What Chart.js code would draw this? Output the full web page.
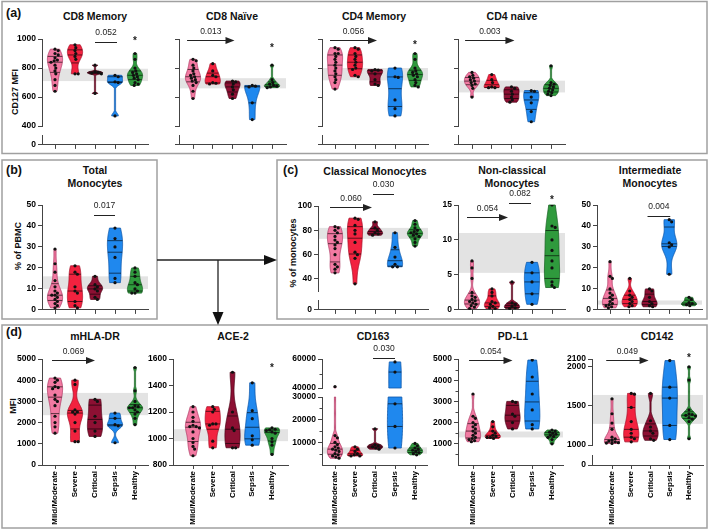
<!DOCTYPE html>
<html><head><meta charset="utf-8">
<script src="https://cdn.jsdelivr.net/npm/chart.js@4.4.1/dist/chart.umd.min.js"></script>
<style>
html,body{margin:0;padding:0;background:#fff}
body{width:709px;height:531px;position:relative;overflow:hidden;font-family:"Liberation Sans",Arial,sans-serif;color:#111}
.tt{position:absolute;transform:translate(-50%,-50%);font-weight:bold;font-size:10.5px;line-height:12.5px;text-align:center;white-space:nowrap}
.pl{position:absolute;transform:translate(0,-50%);font-weight:bold;font-size:12.5px}
.yt{position:absolute;transform:translate(-50%,-50%) rotate(-90deg);font-weight:bold;font-size:9px;white-space:nowrap}
canvas{position:absolute}
</style></head><body>
<svg width="709" height="531" style="position:absolute;left:0;top:0">
<g fill="none" stroke="#a0a0a0" stroke-width="1.5">
<rect x="2" y="1.5" width="705" height="152"/>
<rect x="2" y="160" width="155" height="159"/>
<rect x="277" y="160" width="430" height="159"/>
<rect x="2" y="325" width="705" height="203"/>
</g>
<g stroke="#222" stroke-width="1.3">
<line x1="157" y1="260" x2="266" y2="260"/>
<line x1="218" y1="260" x2="218" y2="313"/>
</g>
<polygon points="264,255 277,260 264,265" fill="#111"/>
<polygon points="212.5,312 218,325 223.5,312" fill="#111"/>
</svg>

<div class="pl" style="left:6px;top:13px">(a)</div>
<div class="pl" style="left:6px;top:170px">(b)</div>
<div class="pl" style="left:283px;top:170px">(c)</div>
<div class="pl" style="left:6px;top:332px">(d)</div>

<div class="tt" style="left:95px;top:16px">CD8 Memory</div>
<div class="tt" style="left:232px;top:16px">CD8 Naïve</div>
<div class="tt" style="left:374px;top:16px">CD4 Memory</div>
<div class="tt" style="left:512px;top:16px">CD4 naive</div>
<div class="tt" style="left:95px;top:176px">Total<br>Monocytes</div>
<div class="tt" style="left:375px;top:171px">Classical Monocytes</div>
<div class="tt" style="left:512px;top:176px">Non-classical<br>Monocytes</div>
<div class="tt" style="left:650px;top:176px">Intermediate<br>Monocytes</div>
<div class="tt" style="left:95px;top:336px">mHLA-DR</div>
<div class="tt" style="left:233px;top:336px">ACE-2</div>
<div class="tt" style="left:373px;top:336px">CD163</div>
<div class="tt" style="left:513px;top:336px">PD-L1</div>
<div class="tt" style="left:657px;top:336px">CD142</div>

<div class="yt" style="left:15px;top:92px">CD127 MFI</div>
<div class="yt" style="left:18px;top:246px">% of PBMC</div>
<div class="yt" style="left:293px;top:253px">% of monocytes</div>
<div class="yt" style="left:13px;top:406px">MFI</div>

<script>
// ---------- categories ----------
const GROUPS = ['Mild/Moderate','Severe','Critical','Sepsis','Healthy'];

// ---------- values (one array per group: Mild/Moderate, Severe, Critical, Sepsis, Healthy) ----------
const cd8Memory = [
 [930,920,900,890,870,855,850,840,820,800,780,760,720,680,640],
 [960,940,920,900,880,860,760,760],
 [820,775,770,765,760,625],
 [750,740,705,700,470],
 [900,860,800,780,770,760,750,740,730,720,700,690,680]
];
const cd8Naive = [
 [860,850,820,800,780,760,750,740,730,720,710,700,680,640,590],
 [830,780,750,740,700,695,690],
 [710,705,690,670,650,620,590],
 [680,675,670,560,445],
 [820,720,700,690,680,675,670,665]
];
const cd4Memory = [
 [940,930,900,900,880,860,840,820,800,780,760,740,720,700,655],
 [940,930,900,880,860,840,820,800,790,750,740],
 [790,785,780,760,720,690,680],
 [800,740,735,580,520,470],
 [900,860,800,780,770,760,750,740,720,700,680,670]
];
const cd4Naive = [
 [770,750,740,730,720,710,700,690,680,660,600],
 [755,720,700,670,665,665],
 [670,660,640,620,600,580,565],
 [645,640,600,560,500,430],
 [815,700,690,680,670,660,650,640,630,620,610]
];
const totalMono = [
 [29,22,18,14,11,9,8,7,7,6,5,4,3,2,1],
 [21,18,17,11,9,8,4,2,1],
 [16,12,11,10,9,6,5],
 [39,34,30,25,15,13],
 [20,18,16,13,12,10,9,8,8]
];
const classicalMono = [
 [83,82,80,78,75,72,70,68,65,60,52,50,48,45],
 [90,89,84,80,77,70,62,60,57,36],
 [87,82,80,78,77,76],
 [78,66,58,52,50,50],
 [88,85,82,80,79,78,77,76,75,73,70,67]
];
const nonClassicalMono = [
 [7,6,4.5,2.5,2,1.8,1.5,1.3,1.2,1,0.8,0.6,0.4,0.2],
 [3,2.5,2,1.2,1,0.8,0.5,0.3,0.2],
 [4,1,0.8,0.5,0.3,0.2],
 [6.8,5.3,4,2.3,0.8],
 [15,12,11.8,10,8.5,7,6,4,3.5,3.2]
];
const intermediateMono = [
 [23,16,15,10,8,7,6,5,4,3,2.5,2,1.5,1],
 [15,9,7,6,5,4,3,2,1.5],
 [10,9,6,4,3,2,1.5],
 [43,42,32,31,30,17],
 [6,5,3.5,3,2.5,2]
];
const mhlaDR = [
 [4100,4000,3900,3700,3650,3600,3300,3100,3000,2800,2300,2000,1800,1500],
 [4000,3800,2600,2500,2500,2400,2000,1600,1100,1100],
 [3100,3000,2300,2000,1600,1350],
 [2450,2200,1900,1850,1050],
 [4600,3500,3000,2800,2750,2700,2700,2600,2500,2400,2200,1900]
];
const ace2 = [
 [1240,1200,1160,1130,1100,1090,1090,1080,1050,1000,970,940,920,870],
 [1240,1220,1200,1110,1110,1100,980,930],
 [1500,1200,1080,1060,930,930],
 [1420,1210,1150,1020,990,950],
 [1080,1070,1065,1060,1050,1040,1000,975,950,880]
];
const cd163 = [
 [41000,13000,12000,10000,9000,8000,7500,7000,6500,6000,5000,4500,4000,3500,3000],
 [8000,7000,6000,5000,4500,4000,4000],
 [16000,9000,8500,8000,7500,7000],
 [58000,51000,27000,17000,7500],
 [9500,8500,7500,7000,6500,6000,5500,5000,4500]
];
const pdl1 = [
 [3350,2300,2200,2000,1900,1800,1700,1600,1500,1400,1300,1250,1200,1150,1100],
 [2050,1800,1600,1500,1400,1350,1300,1300,1250],
 [3000,2950,2400,2300,2000,1700],
 [4950,4150,3350,2600,1900,1700],
 [1650,1600,1550,1500,1450,1400,1350,1300,1200,1000]
];
const cd142 = [
 [1590,1400,1280,1200,1100,1080,1060,1050,1040,1030,1025,1020],
 [1660,1650,1480,1300,1200,1150,1100,1080,1040],
 [1660,1310,1230,1180,1150,1080,1060],
 [2080,1740,1600,1250,1070],
 [2000,1830,1450,1400,1390,1380,1370,1350,1330,1300,1080]
];

// ---------- healthy reference ranges (grey bands) ----------
const cd8MemoryBand = [710,795];
const cd8NaiveBand = [660,730];
const cd4MemoryBand = [715,800];
const cd4NaiveBand = [632,713];
const totalMonoBand = [10,16];
const classicalBand = [73,82];
const nonClassicalBand = [5.3,11];
const intermediateBand = [2.5,4.5];
const mhlaBand = [2350,3400];
const ace2Band = [980,1070];
const cd163Band = [5000,7800];
const pdl1Band = [1300,1580];
const cd142Band = [1270,1640];

// ---------- p-values ----------
const cd8MemoryP = ['0.052'];
const cd8NaiveP = ['0.013'];
const cd4MemoryP = ['0.056'];
const cd4NaiveP = ['0.003'];
const totalMonoP = ['0.017'];
const classicalP = ['0.060','0.030'];
const nonClassicalP = ['0.054','0.082'];
const intermediateP = ['0.004'];
const mhlaP = ['0.069'];
const cd163P = ['0.030'];
const pdl1P = ['0.054'];
const cd142P = ['0.049'];

// ---------- tick labels ----------
const ticksA = [[400,600,800,1000],[0,100]];
const ticks50 = [0,10,20,30,40,50];
const ticksClassical = [[40,60,80,100],[0,20]];
const ticksNonClassical = [0,5,10,15];
const ticksMhla = [0,1000,2000,3000,4000,5000];
const ticksAce2 = [800,1000,1200,1400,1600];
const ticksCd163 = [[40000,60000],[10000,20000,30000]];
const minorCd163 = [[50000],[5000,15000,25000]];
const ticksPdl1 = [1000,2000,3000,4000,5000];
const minorPdl1 = [500,1500,2500,3500,4500];
const ticksCd142 = [[1000,1500,2000,2100],[0,100]];

// ---------- styles ----------
const FONT = '"Liberation Sans", Arial, sans-serif';
const AX = '#444';
const FILL = ['#f27aa2','#f2223f','#8d1033','#1f88ee','#2f9a3d'];
const EDGE = ['#b03a64','#a80f28','#50061b','#0c56a8','#1b6326'];

// ---------- panel layout ----------
const PANELS = [
 {data:cd8Memory, band:cd8MemoryBand, l:42,r:148,c0:55,c4:135,t:39,b:146, yLabels:true, xLabels:false,
  segs:[{min:400,max:1000,h:88,ticks:ticksA[0]},{gap:9},{min:0,max:100,h:10,ticks:ticksA[1]}],
  sig:[{kind:'line',from:2.0,to:3.1,y:978,text:cd8MemoryP[0]}], star:{g:4,v:1000}},
 {data:cd8Naive, band:cd8NaiveBand, l:179,r:286,c0:193,c4:272,t:39,b:146, yLabels:false, xLabels:false,
  segs:[{min:400,max:1000,h:88,ticks:ticksA[0]},{gap:9},{min:0,max:100,h:10,ticks:ticksA[1]}],
  sig:[{kind:'arrow',from:-0.3,to:2.1,y:993,text:cd8NaiveP[0]}], star:{g:4,v:948}},
 {data:cd4Memory, band:cd4MemoryBand, l:322,r:428,c0:335,c4:415,t:39,b:146, yLabels:false, xLabels:false,
  segs:[{min:400,max:1000,h:88,ticks:ticksA[0]},{gap:9},{min:0,max:100,h:10,ticks:ticksA[1]}],
  sig:[{kind:'arrow',from:-0.25,to:2.1,y:993,text:cd4MemoryP[0]}], star:{g:4,v:972}},
 {data:cd4Naive, band:cd4NaiveBand, l:458,r:565,c0:472,c4:551,t:39,b:146, yLabels:false, xLabels:false,
  segs:[{min:400,max:1000,h:88,ticks:ticksA[0]},{gap:9},{min:0,max:100,h:10,ticks:ticksA[1]}],
  sig:[{kind:'arrow',from:-0.35,to:2.15,y:993,text:cd4NaiveP[0]}]},
 {data:totalMono, band:totalMonoBand, l:42,r:148,c0:55,c4:135,t:205,b:311, yLabels:true, xLabels:false,
  segs:[{min:0,max:50,h:106,ticks:ticks50}],
  sig:[{kind:'line',from:1.95,to:3.0,y:45,text:totalMonoP[0]}]},
 {data:classicalMono, band:classicalBand, l:318,r:428,c0:335,c4:415,t:206,b:311, yLabels:true, xLabels:false,
  segs:[{min:30,max:100,h:86,ticks:ticksClassical[0]},{gap:9},{min:0,max:20,h:10,ticks:ticksClassical[1]}],
  sig:[{kind:'arrow',from:-0.25,to:1.85,y:99,text:classicalP[0]},{kind:'line',from:1.9,to:2.95,y:110,text:classicalP[1]}]},
 {data:nonClassicalMono, band:nonClassicalBand, l:458,r:565,c0:472,c4:552,t:205,b:311, yLabels:true, xLabels:false,
  segs:[{min:0,max:15,h:106,ticks:ticksNonClassical}],
  sig:[{kind:'arrow',from:-0.25,to:1.8,y:13.3,text:nonClassicalP[0]},{kind:'line',from:1.85,to:2.95,y:15.3,text:nonClassicalP[1]}], star:{g:4,v:15.9}},
 {data:intermediateMono, band:intermediateBand, l:597,r:702,c0:610,c4:689,t:205,b:311, yLabels:true, xLabels:false,
  segs:[{min:0,max:50,h:106,ticks:ticks50}],
  sig:[{kind:'line',from:1.9,to:3.05,y:44.8,text:intermediateP[0]}]},
 {data:mhlaDR, band:mhlaBand, l:42,r:148,c0:55,c4:135,t:359,b:465, yLabels:true, xLabels:true,
  segs:[{min:0,max:5000,h:106,ticks:ticksMhla}],
  sig:[{kind:'arrow',from:-0.15,to:2.0,y:4950,text:mhlaP[0]}]},
 {data:ace2, band:ace2Band, l:173,r:288,c0:193,c4:272,t:359,b:465, yLabels:true, xLabels:true,
  segs:[{min:800,max:1600,h:106,ticks:ticksAce2}],
  sig:[], star:{g:4,v:1547}},
 {data:cd163, band:cd163Band, l:322,r:427,c0:335,c4:415,t:359,b:465, yLabels:true, xLabels:true,
  segs:[{min:40000,max:60000,h:29,ticks:ticksCd163[0],minor:minorCd163[0]},{gap:9},{min:0,max:30000,h:68,ticks:ticksCd163[1],minor:minorCd163[1]}],
  sig:[{kind:'line',from:1.9,to:3.0,y:60700,text:cd163P[0]}]},
 {data:pdl1, band:pdl1Band, l:458,r:563,c0:473,c4:552,t:359,b:465, yLabels:true, xLabels:true,
  segs:[{min:0,max:5000,h:106,ticks:ticksPdl1,minor:minorPdl1}],
  sig:[{kind:'arrow',from:-0.2,to:2.0,y:4950,text:pdl1P[0]}]},
 {data:cd142, band:cd142Band, l:592,r:703,c0:612,c4:689,t:359,b:465, yLabels:true, xLabels:true,
  segs:[{min:1000,max:2100,h:86,ticks:ticksCd142[0]},{gap:10},{min:0,max:100,h:10,ticks:ticksCd142[1]}],
  sig:[{kind:'arrow',from:-0.3,to:1.9,y:2087,text:cd142P[0]}], star:{g:4,v:2130}}
];

// pixel (relative to plot top) from layout spec, used only for dot dodging
function specPix(p, v){
  let top = 0;
  for (const s of p.segs){
    if (s.gap){ top += s.gap; continue; }
    if (v >= s.min && v <= s.max) return top + (s.max - v) / (s.max - s.min) * s.h;
    top += s.h;
  }
  return null;
}
function swarm(ys, d){
  const placed = []; const off = ys.map(()=>0);
  const order = ys.map((y,i)=>i).filter(i=>ys[i]!=null).sort((a,b)=>ys[a]-ys[b]);
  for (const i of order){
    const y = ys[i];
    for (let k=0;k<40;k++){
      const c = k===0 ? 0 : (k%2 ? 1 : -1) * Math.ceil(k/2) * 0.8;
      if (placed.every(q=>Math.hypot(q.x-c, q.y-y) >= d)){ off[i]=c; placed.push({x:c,y}); break; }
    }
  }
  return off;
}
function yPix(chart, p, v){
  for (let k=0;k<p.segs.length;k++){
    const s = p.segs[k]; if (s.gap) continue;
    if (v >= s.min - 1e-9 && v <= s.max + 1e-9) return chart.scales['y'+k].getPixelForValue(v);
  }
  return null;
}
function quant(sorted, q){
  const pos = (sorted.length-1)*q, lo = Math.floor(pos), hi = Math.ceil(pos);
  return sorted[lo] + (sorted[hi]-sorted[lo])*(pos-lo);
}
function drawViolin(chart, p, vals, gi){
  const ctx = chart.ctx;
  const s = [...vals].sort((a,b)=>a-b);
  const n = s.length, lo = s[0], hi = s[n-1];
  const mean = s.reduce((a,b)=>a+b,0)/n;
  const sd = Math.sqrt(s.reduce((a,b)=>a+(b-mean)*(b-mean),0)/(n-1));
  const iqr = quant(s,0.75)-quant(s,0.25);
  let bw = 0.9*Math.min(sd, iqr>0 ? iqr/1.34 : sd)*Math.pow(n,-0.2);
  if (!(bw>0)) bw = (hi-lo)/4 || 1;
  const dens = v => s.reduce((a,x)=>{const z=(v-x)/bw; return a+Math.exp(-0.5*z*z);},0);
  let samples = [];
  for (let k=0;k<=80;k++) samples.push(lo+(hi-lo)*k/80);
  p.segs.forEach(sg=>{ if(!sg.gap){ [sg.min,sg.max].forEach(b=>{ if(b>lo && b<hi) samples.push(b); }); } });
  samples.sort((a,b)=>a-b);
  const dv = samples.map(dens);
  const dmax = Math.max(...dv);
  const HW = 7.6;
  const cx = chart.scales.x.getPixelForValue(gi);
  const runs = []; let run = [];
  samples.forEach((v,i)=>{
    const y = yPix(chart,p,v);
    if (y==null){ if(run.length) runs.push(run); run=[]; }
    else run.push([y, Math.max(dv[i]/dmax*HW, 0.6)]);
  });
  if (run.length) runs.push(run);
  ctx.save();
  ctx.fillStyle = FILL[gi]; ctx.strokeStyle = EDGE[gi]; ctx.lineWidth = 0.8;
  runs.forEach(r=>{
    ctx.beginPath();
    r.forEach(([y,w],i)=> i ? ctx.lineTo(cx+w,y) : ctx.moveTo(cx+w,y));
    for (let i=r.length-1;i>=0;i--) ctx.lineTo(cx-r[i][1], r[i][0]);
    ctx.closePath(); ctx.fill(); ctx.stroke();
  });
  ctx.strokeStyle = 'rgba(0,0,0,0.75)'; ctx.lineWidth = 0.8;
  [0.25,0.5,0.75].forEach(q=>{
    const v = quant(s,q); const y = yPix(chart,p,v); if (y==null) return;
    const w = dens(v)/dmax*HW;
    ctx.beginPath(); ctx.moveTo(cx-w,y); ctx.lineTo(cx+w,y); ctx.stroke();
  });
  ctx.restore();
}

function makePlugin(p){
  return {
    id:'violinPanel',
    beforeDatasetsDraw(chart){
      const ctx = chart.ctx, ca = chart.chartArea;
      if (p.band){
        const y0 = yPix(chart,p,p.band[0]), y1 = yPix(chart,p,p.band[1]);
        ctx.save(); ctx.fillStyle = '#e3e3e3';
        ctx.fillRect(ca.left+1, y1, ca.right-ca.left-1, y0-y1);
        ctx.restore();
      }
      p.data.forEach((vals,gi)=>drawViolin(chart,p,vals,gi));
    },
    afterDraw(chart){
      const ctx = chart.ctx, xs = chart.scales.x, top = chart.scales.y0;
      ctx.save();
      // minor ticks
      ctx.strokeStyle = AX; ctx.lineWidth = 1;
      p.segs.forEach((s,k)=>{
        if (s.gap || !s.minor) return;
        const sc = chart.scales['y'+k];
        s.minor.forEach(v=>{
          const y = Math.round(sc.getPixelForValue(v)) + 0.5;
          ctx.beginPath(); ctx.moveTo(sc.right-2.5, y); ctx.lineTo(sc.right, y); ctx.stroke();
        });
      });
      ctx.strokeStyle = '#222'; ctx.fillStyle = '#222'; ctx.lineWidth = 1;
      ctx.font = '8.5px ' + FONT; ctx.textAlign = 'center'; ctx.textBaseline = 'middle';
      (p.sig||[]).forEach(sg=>{
        const y = Math.round(top.getPixelForValue(sg.y)) + 0.5;
        const x0 = xs.getPixelForValue(sg.from), x1 = xs.getPixelForValue(sg.to);
        ctx.beginPath(); ctx.moveTo(x0,y); ctx.lineTo(sg.kind==='arrow' ? x1-8 : x1, y); ctx.stroke();
        if (sg.kind==='arrow'){
          ctx.beginPath(); ctx.moveTo(x1,y); ctx.lineTo(x1-9,y-3.5); ctx.lineTo(x1-9,y+3.5); ctx.closePath(); ctx.fill();
        }
        ctx.fillText(sg.text, (x0+x1)/2, y - (sg.kind==='arrow' ? 8.5 : 9.5));
      });
      if (p.star){
        ctx.font = 'bold 10px ' + FONT;
        ctx.fillText('*', xs.getPixelForValue(p.star.g), top.getPixelForValue(p.star.v)+2);
      }
      ctx.restore();
    }
  };
}

function makeChart(p){
  const padL = 40, padT = 34, padR = 6;
  const xb = p.xLabels ? 62 : 6;
  const W = p.r - p.l + padL + padR, H = padT + p.b - p.t + xb;
  const cv = document.createElement('canvas');
  cv.width = W; cv.height = H;
  cv.style.left = (p.l-padL)+'px'; cv.style.top = (p.t-padT)+'px';
  cv.style.width = W+'px'; cv.style.height = H+'px';
  document.body.appendChild(cv);
  const step = (p.c4-p.c0)/4;
  const xmin = -(p.c0-p.l)/step, xmax = xmin + (p.r-p.l)/step;
  const scales = {
    x: {type:'linear', position:'bottom', min:xmin, max:xmax,
      afterBuildTicks: sc=>{ sc.ticks = GROUPS.map((g,i)=>({value:i})); },
      afterFit: sc=>{ sc.height = xb; },
      ticks:{display:p.xLabels, autoSkip:false, minRotation:90, maxRotation:90, padding:2, color:'#000',
        font:{family:FONT,size:8,weight:'bold'}, callback:v=>GROUPS[v]},
      grid:{display:true, drawOnChartArea:false, drawTicks:true, tickLength:4, color:AX, tickColor:AX},
      border:{display:true, color:AX, width:1}}
  };
  const stacked = p.segs.length > 1;
  for (let k=p.segs.length-1;k>=0;k--){
    const s = p.segs[k];
    const sc = {type:'linear', position:'left', afterFit: a=>{ a.width = padL; }};
    if (stacked){ sc.stack = 'ys'; sc.stackWeight = s.gap ? s.gap : s.h; }
    if (s.gap){
      Object.assign(sc, {min:0, max:1, ticks:{display:false}, grid:{display:false}, border:{display:false}});
    } else {
      Object.assign(sc, {min:s.min, max:s.max,
        afterBuildTicks: a=>{ a.ticks = s.ticks.map(v=>({value:v})); },
        ticks:{display:true, padding:2, color:'#000', font:{family:FONT,size:8.5,weight:'bold'},
          callback: v => p.yLabels ? String(v) : ''},
        grid:{display:true, drawOnChartArea:false, drawTicks:true, tickLength:4, color:AX, tickColor:AX},
        border:{display:true, color:AX, width:1}});
    }
    scales['y'+k] = sc;
  }
  const datasets = [];
  p.data.forEach((vals,gi)=>{
    const ys = vals.map(v=>specPix(p,v));
    const off = swarm(ys, 3.0);
    p.segs.forEach((s,k)=>{
      if (s.gap) return;
      const pts = [];
      vals.forEach((v,i)=>{ if (v>=s.min && v<=s.max) pts.push({x: gi + off[i]/step, y: v}); });
      if (pts.length) datasets.push({data:pts, yAxisID:'y'+k, pointRadius:1.6, pointBackgroundColor:'#111',
        pointBorderWidth:0, pointHoverRadius:1.6, showLine:false});
    });
  });
  new Chart(cv, {
    type:'scatter',
    data:{datasets},
    options:{
      responsive:false, animation:false, events:[],
      layout:{autoPadding:false, padding:{left:0, top:padT, right:padR, bottom:0}},
      plugins:{legend:{display:false}, tooltip:{enabled:false}},
      scales
    },
    plugins:[makePlugin(p)]
  });
}
PANELS.forEach(makeChart);
</script>
</body></html>
